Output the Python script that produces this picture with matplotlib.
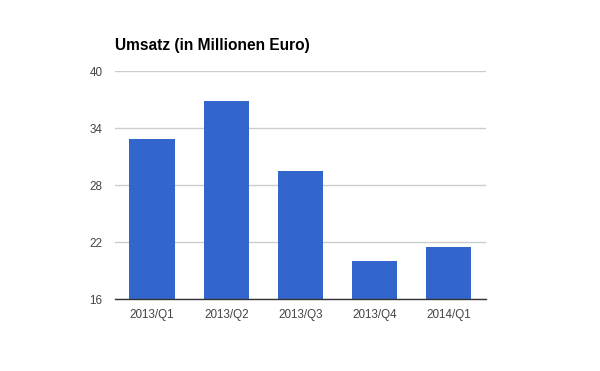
import matplotlib
matplotlib.use("Agg")
import matplotlib.pyplot as plt

categories = ["2013/Q1", "2013/Q2", "2013/Q3", "2013/Q4", "2014/Q1"]
values = [32.9, 36.9, 29.5, 20.0, 21.5]
yticks = [16, 22, 28, 34, 40]
title = "Umsatz (in Millionen Euro)"

plt.rcParams['font.family'] = ['Liberation Sans', 'DejaVu Sans']

fig = plt.figure(figsize=(6, 3.71), dpi=100)
ax = fig.add_axes([115/600, 1 - 299/371, (485.7-115)/600, (299-71.3)/371])

ax.bar(range(len(categories)), values, width=0.61, color="#3366cc", zorder=3)
ax.set_xlim(-0.5, len(categories) - 0.5)
ax.set_ylim(16, 40)
ax.set_yticks(yticks)
ax.set_xticks(range(len(categories)))
ax.set_xticklabels(categories)

for s in ["top", "right", "left"]:
    ax.spines[s].set_visible(False)
ax.spines["bottom"].set_color("#333333")
ax.spines["bottom"].set_linewidth(1)
ax.spines["bottom"].set_zorder(4)

ax.grid(axis="y", color="#cccccc", linewidth=1, zorder=0)
ax.tick_params(axis="both", length=0, labelsize=8.4, labelcolor="#444444")
ax.tick_params(axis="y", pad=9)
ax.tick_params(axis="x", pad=7)

fig.text(115/600, 1 - 50/371, title, fontsize=11.2, fontweight="bold",
         color="#000000", ha="left", va="baseline")

fig.savefig("out.png", dpi=100)
